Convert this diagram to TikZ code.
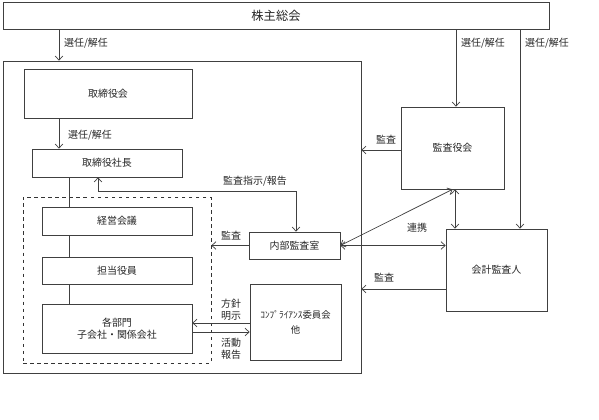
\documentclass[tikz,border=0pt]{standalone}
\usepackage{fontspec}
\setmainfont{Noto Sans CJK JP}
\usetikzlibrary{arrows.meta}
\usetikzlibrary{positioning}

\begin{document}
\begin{tikzpicture}[x=0.03cm, y=-0.03cm, line width=0.6pt,
		every node/.style={text=black!85, font=\fontsize{8.5pt}{10pt}\selectfont},
		blk/.style={draw=black!75, fill=white, inner sep=1pt, align=center},
		sz/.style 2 args={minimum width=#1*0.03cm, minimum height=#2*0.03cm},
		arr/.style={draw=black!75, -{Straight Barb[length=3.5pt,width=6.5pt]}},
		arrb/.style={draw=black!75, {Straight Barb[length=3.5pt,width=6.5pt]}-{Straight Barb[length=3.5pt,width=6.5pt]}},
		lbl/.style={inner sep=0pt, align=center}]
		\useasboundingbox (0,0) rectangle (599,419);
		
		\node[blk, sz={546}{27}, font=\fontsize{10.5pt}{12pt}\selectfont] (soukai) at (276,15.5) {株主総会};
		\node[blk, sz={358}{312}, fill=none] (corp) at (182,217) {};
		\node[draw=black!80, dashed, sz={188}{166}] (grp) at (117,280) {};
		
		\node[blk, sz={168}{49}] (torikai) at (108,93.5) {取締役会};
		\node[blk, sz={150}{28}] (shacho) at (107,163) {取締役社長};
		\node[blk, sz={150}{28}] (keiei) at (117,221) {経営会議};
		\node[blk, sz={150}{27}] (tanto) at (117,270.5) {担当役員};
		\node[blk, sz={150}{49}] (bumon) at (117,328.5) {各部門\\子会社・関係会社};
		
		% vertical spine through the business side
		\coordinate (spine) at (69,0);
		\draw[black!75] (shacho.south -| spine) -- (keiei.north -| spine);
		\draw[black!75] (keiei.south -| spine) -- (tanto.north -| spine);
		\draw[black!75] (tanto.south -| spine) -- (bumon.north -| spine);
		
		\node[blk, sz={91}{27}] (naibu) at (294.5,245.5) {内部監査室};
		\node[blk, sz={91}{76}, font=\fontsize{8pt}{13pt}\selectfont] (comp) at (295.5,322) {ｺﾝﾌﾟﾗｲｱﾝｽ委員会\\他};
		\node[blk, sz={103}{82}] (kansa) at (452.5,148) {監査役会};
		\node[blk, sz={101}{82}] (kaikei) at (496.5,270) {会計監査人};
		
		% 選任/解任
		\coordinate (s1) at (59,0);
		\coordinate (s2) at (456,0);
		\coordinate (s3) at (520,0);
		\draw[arr] (soukai.south -| s1) -- (corp.north -| s1);
		\draw[arr] (torikai.south -| s1) -- (shacho.north -| s1);
		\draw[arr] (soukai.south -| s2) -- (kansa.north -| s2);
		\draw[arr] (soukai.south -| s3) -- (kaikei.north -| s3);
		\node[lbl] (l1) at (86,43) {選任/解任};
		\node[lbl] (l2) at (90,135) {選任/解任};
		\node[lbl] (l3) at (483,43) {選任/解任};
		\node[lbl] (l4) at (547,43) {選任/解任};
		
		% 監査指示/報告
		\coordinate (rep) at (98,191);
		\coordinate (rep2) at (296,191);
		\draw[arrb] (shacho.south -| rep) -- (rep) -- (rep2) -- (naibu.north -| rep2);
		\node[lbl] (l5) at (255,181) {監査指示/報告};
		
		% 監査
		\draw[arr] (naibu.west) -- (naibu.west -| grp.east);
		\node[lbl] (l6) at (231,236) {監査};
		\coordinate (k1) at (0,150);
		\draw[arr] (kansa.west |- k1) -- (corp.east |- k1);
		\node[lbl] (l7) at (386,140) {監査};
		\coordinate (k2) at (0,289);
		\draw[arr] (kaikei.west |- k2) -- (corp.east |- k2);
		\node[lbl] (l8) at (384,278) {監査};
		
		% 連携
		\coordinate (k3) at (455,0);
		\draw[arrb] (naibu.east) -- (kansa.south);
		\draw[arrb] (naibu.east) -- (kaikei.west |- naibu.east);
		\draw[arrb] (kansa.south -| k3) -- (kaikei.north -| k3);
		\node[lbl] (l9) at (417,228) {連携};
		
		% 方針明示 / 活動報告
		\coordinate (h1) at (0,323);
		\coordinate (h2) at (0,332);
		\draw[arr] (comp.west |- h1) -- (bumon.east |- h1);
		\draw[arr] (bumon.east |- h2) -- (comp.west |- h2);
		\node[lbl] (l10) at (231,309.5) {方針\\明示};
		\node[lbl] (l11) at (231,348.5) {活動\\報告};
\end{tikzpicture}
\end{document}
